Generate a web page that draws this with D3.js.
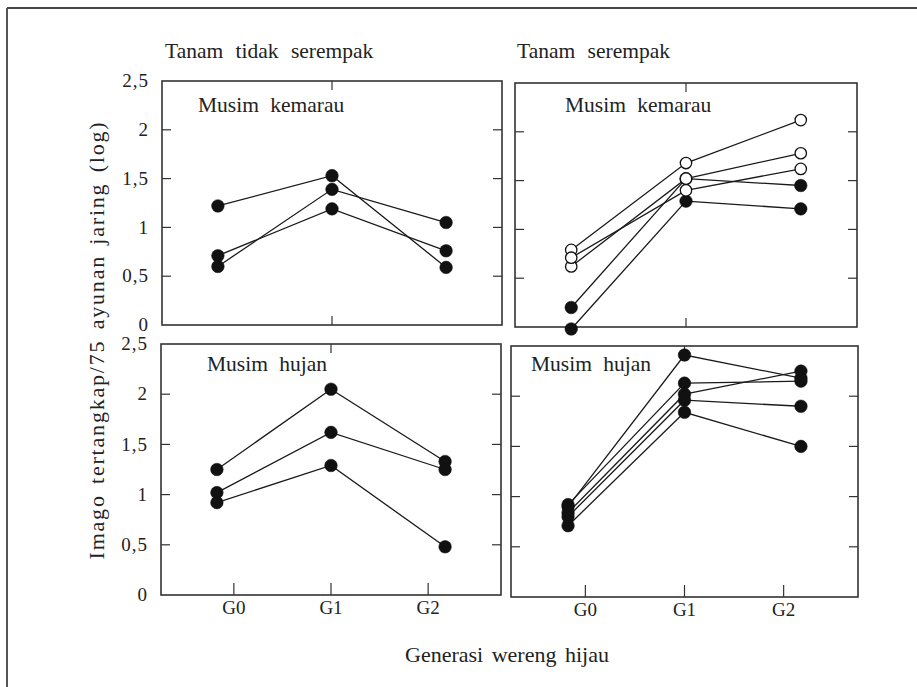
<!DOCTYPE html>
<html>
<head>
<meta charset="utf-8">
<script src="https://cdn.jsdelivr.net/npm/d3@7"></script>
<style>
  html, body { margin: 0; padding: 0; background: #fff; }
  svg { display: block; }
</style>
</head>
<body>
<svg id="chart" width="917" height="687"></svg>
<script>
// ---- data ----
const generations = ["G0", "G1", "G2"];
const yTickValues = [0, 0.5, 1, 1.5, 2, 2.5];
const yTickLabels = ["0", "0,5", "1", "1,5", "2", "2,5"];
const innerTicks = [0.5, 1, 1.5, 2];

// Tanam tidak serempak, Musim kemarau
const tlFilled = [[1.22, 1.53, 0.59], [0.60, 1.39, 1.05], [0.71, 1.19, 0.76]];
// Tanam serempak, Musim kemarau
const trOpen = [[0.79, 1.68, 2.12], [0.62, 1.52, 1.78], [0.71, 1.40, 1.62]];
const trFilled = [[0.20, 1.52, 1.45], [-0.02, 1.29, 1.21]];
// Tanam tidak serempak, Musim hujan
const blFilled = [[1.25, 2.05, 1.33], [1.02, 1.62, 1.25], [0.92, 1.29, 0.48]];
// Tanam serempak, Musim hujan
const brFilled = [[0.90, 2.41, 2.18], [0.92, 2.13, 2.15], [0.84, 2.02, 2.25], [0.80, 1.96, 1.90], [0.71, 1.84, 1.50]];

const columnTitles = ["Tanam tidak serempak", "Tanam serempak"];
const seasonLabels = ["Musim kemarau", "Musim hujan"];
const yTitle = "Imago tertangkap/75 ayunan jaring (log)";
const xTitle = "Generasi wereng hijau";

// ---- layout ----
const SERIF = "'Liberation Serif', Tinos, 'DejaVu Serif', 'Times New Roman', serif";
const svg = d3.select("#chart").attr("font-family", SERIF);
const FONT = 19;

// outer frame (top and left edges)
svg.append("line").attr("x1", 7).attr("x2", 917).attr("y1", 8).attr("y2", 8)
  .attr("stroke", "#444").attr("stroke-width", 2);
svg.append("line").attr("x1", 7).attr("x2", 7).attr("y1", 8).attr("y2", 687)
  .attr("stroke", "#555").attr("stroke-width", 2);

const panels = [
  { x: 162, y: 81, w: 340, h: 244, filled: tlFilled, open: [], label: seasonLabels[0], lx: 198, ly: 112, yLabels: true, bottomTicks: false },
  { x: 515, y: 83, w: 342, h: 244, filled: trFilled, open: trOpen, label: seasonLabels[0], lx: 565, ly: 112, yLabels: false, bottomTicks: false },
  { x: 161, y: 344, w: 340, h: 251, filled: blFilled, open: [], label: seasonLabels[1], lx: 207, ly: 371, yLabels: true, bottomTicks: true },
  { x: 511, y: 346, w: 347, h: 251, filled: brFilled, open: [], label: seasonLabels[1], lx: 531, ly: 371, yLabels: false, bottomTicks: true }
];

const TL = 9; // tick length

panels.forEach(p => {
  const g = svg.append("g").attr("transform", `translate(${p.x},${p.y})`);
  const y = d3.scaleLinear().domain([0, 2.5]).range([p.h, 0]);
  const xData = d3.scalePoint().domain(generations).range([0, p.w]).padding(0.49);
  const xTick = d3.scalePoint().domain(generations).range([0, p.w]).padding(0.75);

  // frame
  g.append("rect").attr("width", p.w).attr("height", p.h)
    .attr("fill", "none").attr("stroke", "#333").attr("stroke-width", 1.6);

  // inward ticks on left & right
  const ticks = g.append("g").attr("stroke", "#333").attr("stroke-width", 1.2);
  innerTicks.forEach(v => {
    ticks.append("line").attr("x1", 0).attr("x2", TL).attr("y1", y(v)).attr("y2", y(v));
    ticks.append("line").attr("x1", p.w - TL).attr("x2", p.w).attr("y1", y(v)).attr("y2", y(v));
  });
  // top tick at G1
  const topX = p.bottomTicks ? xTick("G1") : xData("G1");
  ticks.append("line").attr("x1", topX).attr("x2", topX).attr("y1", 0).attr("y2", TL);
  if (p.bottomTicks) {
    generations.forEach(gn => {
      ticks.append("line").attr("x1", xTick(gn)).attr("x2", xTick(gn)).attr("y1", p.h - TL - 3).attr("y2", p.h);
      g.append("text").attr("x", xTick(gn)).attr("y", p.h + 19)
        .attr("text-anchor", "middle").attr("font-size", FONT).attr("fill", "#222").text(gn);
    });
  } else {
    ticks.append("line").attr("x1", xData("G1")).attr("x2", xData("G1")).attr("y1", p.h - TL).attr("y2", p.h);
  }

  // y tick labels
  if (p.yLabels) {
    yTickValues.forEach((v, i) => {
      g.append("text").attr("x", -13).attr("y", y(v)).attr("dy", "0.33em")
        .attr("text-anchor", "end").attr("font-size", FONT).attr("fill", "#222")
        .attr("letter-spacing", 1).text(yTickLabels[i]);
    });
  }

  // season label
  g.append("text").attr("x", p.lx - p.x).attr("y", p.ly - p.y)
    .attr("font-size", 21.5).attr("word-spacing", 6).attr("fill", "#222").text(p.label);

  const line = d3.line().x((d, i) => xData(generations[i])).y(d => y(d));
  const all = p.filled.map(s => ({ vals: s, open: false })).concat(p.open.map(s => ({ vals: s, open: true })));

  g.append("g").selectAll("path").data(all).join("path")
    .attr("d", d => line(d.vals)).attr("fill", "none")
    .attr("stroke", "#1a1a1a").attr("stroke-width", 1.3);

  all.forEach(s => {
    g.append("g").selectAll("circle").data(s.vals).join("circle")
      .attr("cx", (d, i) => xData(generations[i])).attr("cy", d => y(d))
      .attr("r", s.open ? 5.7 : 6.3)
      .attr("fill", s.open ? "#fff" : "#111")
      .attr("stroke", "#111").attr("stroke-width", s.open ? 1.3 : 0.5);
  });
});

// column titles
svg.append("text").attr("x", 165).attr("y", 58).attr("font-size", 21.5).attr("word-spacing", 7).attr("fill", "#222").text(columnTitles[0]);
svg.append("text").attr("x", 517).attr("y", 58).attr("font-size", 21.5).attr("word-spacing", 7).attr("fill", "#222").text(columnTitles[1]);

// axis titles
svg.append("text").attr("transform", "translate(104,340) rotate(-90)")
  .attr("text-anchor", "middle").attr("font-size", 22).attr("letter-spacing", 1.8).attr("word-spacing", 3).attr("fill", "#222").text(yTitle);
svg.append("text").attr("x", 507).attr("y", 662)
  .attr("text-anchor", "middle").attr("font-size", 22).attr("word-spacing", 3).attr("fill", "#222").text(xTitle);
</script>
</body>
</html>
